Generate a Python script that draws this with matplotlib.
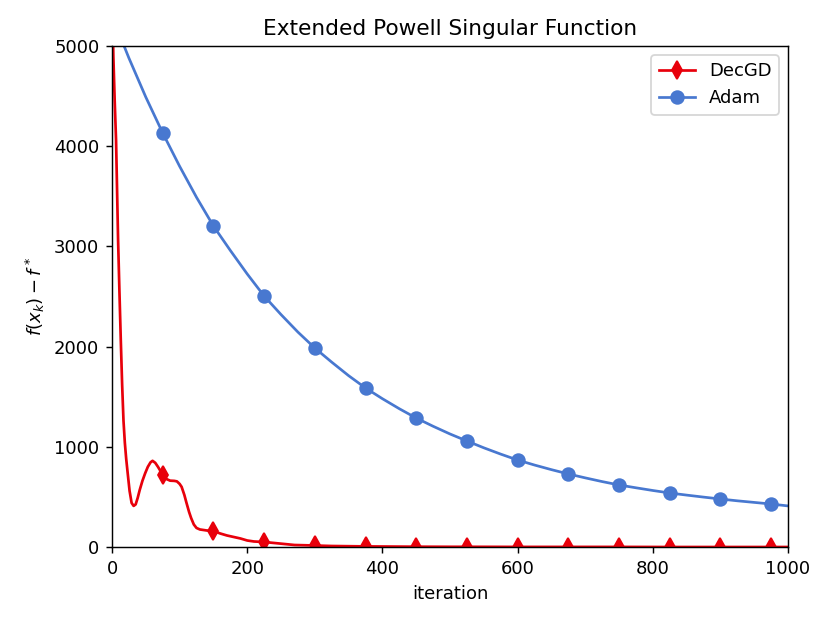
import numpy as np
import matplotlib
matplotlib.use("Agg")
import matplotlib.pyplot as plt

# DecGD values (iteration, f(x_k) - f*)
dec_iter = [0, 2, 4, 6, 9, 11, 13, 15, 17, 19, 21, 23, 26, 29, 32, 35, 38, 41, 45,
            49, 53, 57, 60, 64, 68, 72, 75, 80, 86, 92, 96, 100, 103, 107, 110, 114,
            117, 121, 125, 130, 140, 150, 160, 170, 180, 190, 200, 210, 225, 240,
            255, 270, 300, 325, 350, 375, 400, 450, 500, 525, 600, 675, 750, 825,
            900, 975, 1000]
dec_vals = [5600, 4900, 4450, 4060, 3064, 2550, 2066, 1620, 1260, 1040, 880, 750,
            560, 440, 410, 425, 490, 569, 660, 735, 800, 845, 860, 840, 800, 755,
            719, 680, 662, 660, 655, 630, 600, 520, 445, 350, 290, 225, 190, 175,
            165, 160, 135, 115, 100, 85, 65, 55, 50, 40, 30, 20, 15, 10, 8, 6, 5, 3,
            2, 2, 1, 1, 1, 0, 0, 0, 0]

# Adam values every 25 iterations
adam_iter = list(range(0, 1001, 25))
adam_vals = [5300, 4880, 4490, 4132, 3800, 3490, 3204, 2960, 2725, 2505, 2320, 2145,
             1986, 1845, 1710, 1587, 1480, 1380, 1287, 1205, 1128, 1058, 990, 927,
             868, 818, 772, 729, 690, 653, 619, 591, 564, 539, 518, 498, 479, 461,
             445, 429, 410]

marker_iters = list(range(75, 1000, 75))

fig = plt.figure(figsize=(830 / 130, 623 / 130), dpi=130)
ax = fig.add_axes([112 / 830, 1 - 547 / 623, 676 / 830, 501 / 623])

dec_marks = [i for i, it in enumerate(dec_iter) if it in marker_iters]
adam_marks = [i for i, it in enumerate(adam_iter) if it in marker_iters]

ax.plot(dec_iter, dec_vals, color='#e8000b', marker='d', markersize=7,
        markevery=dec_marks, label='DecGD')
ax.plot(adam_iter, adam_vals, color='#4878d0', marker='o', markersize=7,
        markevery=adam_marks, label='Adam')

ax.set_xlim(0, 1000)
ax.set_ylim(0, 5000)
ax.set_xlabel('iteration')
ax.set_ylabel(r'$f(x_k) - f^*$')
ax.set_title('Extended Powell Singular Function')
ax.legend(loc='upper right')

fig.savefig('out.png', dpi=130)
